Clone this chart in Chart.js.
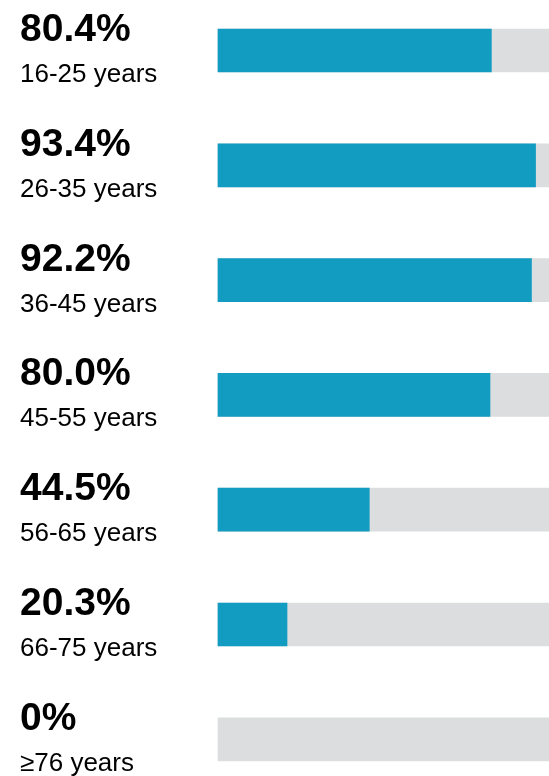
<!DOCTYPE html>
<html>
<head>
<meta charset="utf-8">
<script src="https://cdn.jsdelivr.net/npm/chart.js@4/dist/chart.umd.min.js"></script>
<style>
  html, body { margin: 0; padding: 0; background: #fff; overflow: hidden; }
  #wrap { position: absolute; left: 0; top: 0; width: 560px; height: 776px; }
</style>
</head>
<body>
<div id="wrap"><canvas id="c"></canvas></div>
<script>
// Share of each age group (percent)
const ageGroups = ['16-25 years', '26-35 years', '36-45 years', '45-55 years', '56-65 years', '66-75 years', '\u226576 years'];
const shares = [80.4, 93.4, 92.2, 80.0, 44.5, 20.3, 0];
const fullScale = [100, 100, 100, 100, 100, 100, 100];

const TEAL = '#139cc1';
const TRACK = '#dcddde';
const FONT = '"Liberation Sans", Arial, Helvetica, sans-serif';

function pctText(v) {
  return v === 0 ? '0%' : v.toFixed(1) + '%';
}

// Left-hand labels: bold share on top, age group underneath
const rowLabels = {
  id: 'rowLabels',
  afterDatasetsDraw(chart) {
    const ctx = chart.ctx;
    const y = chart.scales.y;
    ctx.save();
    ctx.fillStyle = '#000';
    ctx.textAlign = 'left';
    ctx.textBaseline = 'alphabetic';
    ageGroups.forEach((g, i) => {
      const cy = y.getPixelForValue(i);
      ctx.font = 'bold 39px ' + FONT;
      ctx.fillText(pctText(shares[i]), 20, cy - 9.5);
      ctx.font = '26px ' + FONT;
      ctx.fillText(g, 20, cy + 31.5);
    });
    ctx.restore();
  }
};

new Chart(document.getElementById('c'), {
  type: 'bar',
  data: {
    labels: ageGroups,
    datasets: [
      {
        data: shares,
        backgroundColor: (c) => (c.raw > 0 ? TEAL : 'rgba(0,0,0,0)'),
        barThickness: 43,
        clip: false,
        order: 0
      },
      {
        data: fullScale,
        backgroundColor: TRACK,
        barThickness: 43,
        clip: false,
        order: 1
      }
    ]
  },
  options: {
    indexAxis: 'y',
    responsive: true,
    maintainAspectRatio: false,
    animation: false,
    layout: { padding: { left: 218, right: 2, top: 50.5, bottom: 36.7 } },
    plugins: { legend: { display: false }, tooltip: { enabled: false } },
    scales: {
      x: { display: false, min: 0, max: 100, stacked: false },
      y: { display: false, offset: false, stacked: true, grid: { display: false } }
    }
  },
  plugins: [rowLabels]
});
</script>
</body>
</html>
